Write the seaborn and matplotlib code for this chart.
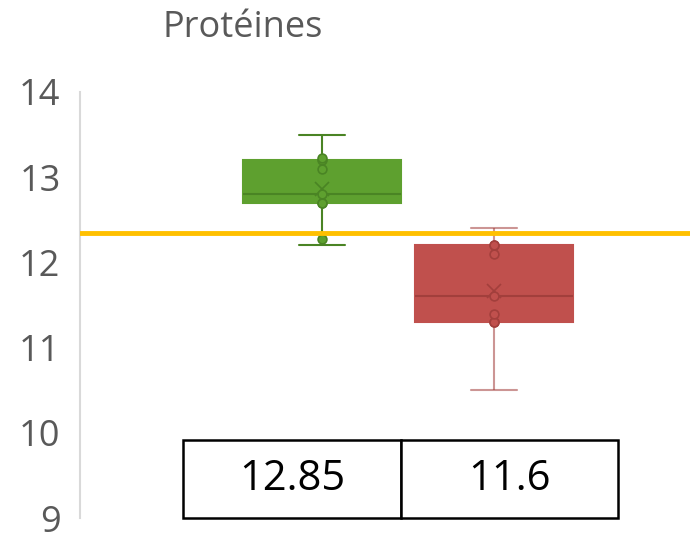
import pandas as pd
import matplotlib.pyplot as plt
import seaborn as sns
import numpy as np

# Values (two groups)
groups = ['A', 'B']
values_a = [12.2, 12.28, 12.7, 12.7, 12.8, 13.1, 13.2, 13.23, 13.5]
values_b = [10.5, 11.3, 11.3, 11.4, 11.6, 12.1, 12.2, 12.2, 12.4]
table_labels = ['12.85', '11.6']
reference_value = 12.35
y_ticks = [9, 10, 11, 12, 13, 14]

fill_colors = ['#5EA02F', '#C0504D']
edge_colors = ['#4A8424', '#A23F3C']
gray = '#595959'

data = pd.DataFrame({
    'group': [groups[0]] * len(values_a) + [groups[1]] * len(values_b),
    'value': values_a + values_b,
})

sns.set_style('white')
plt.rcParams['font.family'] = ['Open Sans', 'DejaVu Sans']

fig = plt.figure(figsize=(6.98, 5.4), dpi=100)
ax = fig.add_axes([0.1146, 0.0407, 0.874, 0.789])

sns.boxplot(data=data, x='group', y='value', hue='group', palette=fill_colors,
            width=0.92, whis=(0, 100), showfliers=False, showmeans=True,
            meanprops={'marker': 'x', 'markersize': 10, 'markeredgewidth': 1.2},
            legend=False, ax=ax, linewidth=1.5)

# recolor the box parts per group
for i, patch in enumerate(ax.patches):
    patch.set_facecolor(fill_colors[i])
    patch.set_edgecolor(fill_colors[i])
lines = ax.lines
n_per = len(lines) // 2
for i in range(2):
    for ln in lines[i * n_per:(i + 1) * n_per]:
        ln.set_color(edge_colors[i])
        ln.set_markeredgecolor(edge_colors[i])
        ln.set_linewidth(1.5)

# narrow whisker caps like the reference
for i in range(2):
    vals = values_a if i == 0 else values_b
    for ln in lines[i * n_per:(i + 1) * n_per]:
        xd = np.asarray(ln.get_xdata(), dtype=float)
        yd = np.asarray(ln.get_ydata(), dtype=float)
        no_marker = ln.get_marker() in ('None', None, '')
        if len(xd) == 2 and yd[0] == yd[1] and no_marker:
            if abs(yd[0] - np.median(vals)) > 1e-6:
                c = (xd[0] + xd[1]) / 2
                ln.set_xdata([c - 0.135, c + 0.135])
                if i == 1:
                    ln.set_alpha(0.55)
        if i == 1 and no_marker and len(set(xd)) == 1:
            ln.set_alpha(0.55)

# inner points (whisker ends not marked)
for i, vals in enumerate([values_a, values_b]):
    inner = [v for v in vals if min(vals) < v < max(vals)]
    ax.scatter([i] * len(inner), inner, s=40, facecolors=fill_colors[i],
               edgecolors=edge_colors[i], linewidths=1.2, zorder=5)

ax.axhline(reference_value, color='#FFC000', linewidth=3.5, zorder=6)

ax.set_ylim(9, 14)
ax.set_xlim(-1.407, 2.14)
ax.set_yticks(y_ticks)
ax.set_yticklabels([str(t) for t in y_ticks], fontsize=26, color=gray)
ax.tick_params(axis='y', length=0, pad=14)
ax.set_xticks([])
ax.set_xlabel('')
ax.set_ylabel('')
for side in ['top', 'right', 'bottom']:
    ax.spines[side].set_visible(False)
ax.spines['left'].set_color('#D9D9D9')
ax.spines['left'].set_linewidth(1.5)

tbl = ax.table(cellText=[table_labels], cellLoc='center',
               bbox=[0.169, 0.0, 0.713, 0.183])
tbl.auto_set_font_size(False)
for (r, c), cell in tbl.get_celld().items():
    cell.set_linewidth(1.8)
    cell.set_edgecolor('black')
    cell.get_text().set_fontsize(30)
    cell.get_text().set_color('black')

fig.text(0.347, 0.948, 'Protéines', fontsize=26, color=gray, ha='center', va='center')

plt.savefig('out.png', dpi=100)
plt.close()
